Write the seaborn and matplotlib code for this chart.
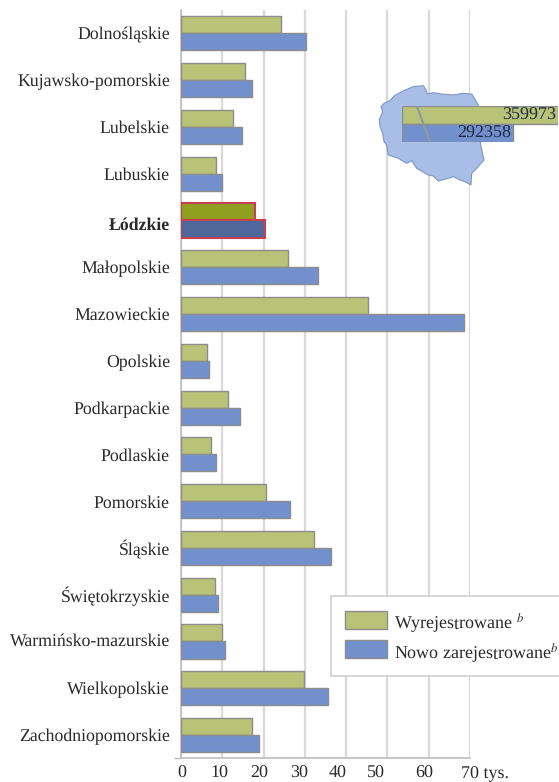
import matplotlib
matplotlib.use('Agg')
import matplotlib.pyplot as plt
import matplotlib.transforms as mtrans
from matplotlib.patches import Patch, Polygon, Rectangle
import pandas as pd
import seaborn as sns

# --- Data ---
regions = ['Dolnośląskie', 'Kujawsko-pomorskie', 'Lubelskie', 'Lubuskie', 'Łódzkie',
           'Małopolskie', 'Mazowieckie', 'Opolskie', 'Podkarpackie', 'Podlaskie',
           'Pomorskie', 'Śląskie', 'Świętokrzyskie', 'Warmińsko-mazurskie',
           'Wielkopolskie', 'Zachodniopomorskie']
wyrejestrowane = [24.2, 15.5, 12.6, 8.5, 17.9, 25.9, 45.3, 6.3,
                  11.4, 7.3, 20.6, 32.2, 8.2, 9.9, 29.8, 17.2]
nowo = [30.3, 17.2, 14.8, 9.9, 20.3, 33.2, 68.5, 6.8,
        14.3, 8.5, 26.4, 36.3, 9.0, 10.7, 35.6, 18.9]
x_ticks = [0, 10, 20, 30, 40, 50, 60, 70]
x_tick_labels = ['0', '10', '20', '30', '40', '50', '60', '70 tys.']
poland_totals = [359973, 292358]

GREEN, BLUE = '#B9C377', '#7291CC'
EDGE = '#8C8C8C'
GRID = '#D9D9D9'
TEXT = '#2A2A2A'
W, H = 559, 782

sns.set_theme(style='white')
plt.rcParams['font.family'] = ['Liberation Serif', 'DejaVu Serif']
plt.rcParams['mathtext.fontset'] = 'stix'
plt.rcParams['text.hinting'] = 'no_hinting'

df = pd.DataFrame({'region': regions * 2,
                   'value': wyrejestrowane + nowo,
                   'series': ['Wyrejestrowane'] * 16 + ['Nowo zarejestrowane'] * 16})

fig = plt.figure(figsize=(W / 100, H / 100), dpi=100)
ax = fig.add_axes([181 / W, 1 - 758.4 / H, (470 - 181) / W, (758.4 - 10) / H])

sns.barplot(data=df, x='value', y='region', hue='series', order=regions,
            palette=[GREEN, BLUE], width=0.73, gap=0, saturation=1,
            edgecolor=EDGE, linewidth=1, legend=False, ax=ax, zorder=3)

# highlight the Lodzkie pair
idx = regions.index('Łódzkie')
for cont, col in zip(ax.containers, ['#8F9F1F', '#4F689B']):
    bar = cont[idx]
    bar.set_facecolor(col)
    bar.set_edgecolor('#C8404F')
    bar.set_linewidth(1.5)

ax.set_xlim(0, 70)
ax.set_ylim(15.5, -0.5)
ax.set_xlabel('')
ax.set_ylabel('')
ax.grid(axis='x', color=GRID, lw=1.6, zorder=0)
ax.set_axisbelow(True)
for side in ['top', 'right']:
    ax.spines[side].set_visible(False)
for side in ['left', 'bottom']:
    ax.spines[side].set_color('#BDBDBD')
    ax.spines[side].set_linewidth(1.2)

ax.set_xticks(x_ticks)
ax.set_xticklabels(x_tick_labels, fontsize=13, color=TEXT, ha='center')
ax.tick_params(axis='x', length=3, color='#BDBDBD', pad=2)
ax.tick_params(axis='y', which='major', length=0, pad=8)
ax.set_yticks([15.5], minor=True)
ax.tick_params(axis='y', which='minor', length=5, color='#BDBDBD', left=True)

# x labels sit a bit off their gridlines in the original
shifts = [1, -3, -4, -6, -9, -11, -4, 15]
for lab, dx in zip(ax.get_xticklabels(), shifts):
    lab.set_transform(lab.get_transform() + mtrans.ScaledTranslation(dx / 100, 0, fig.dpi_scale_trans))

for lab in ax.get_yticklabels():
    lab.set_fontsize(12.8)
    lab.set_color(TEXT)
    if lab.get_text() == 'Łódzkie':
        lab.set_fontweight('bold')
        lab.set_transform(lab.get_transform() + mtrans.ScaledTranslation(0, -0.03, fig.dpi_scale_trans))
    if lab.get_text() == 'Warmińsko-mazurskie':
        lab.set_transform(lab.get_transform() + mtrans.ScaledTranslation(0, 0.02, fig.dpi_scale_trans))

# --- Map inset ---
outline = [(28, 148), (38, 125), (33, 110), (42, 100), (60, 92), (72, 78), (95, 65), (130, 50), (160, 47),
           (168, 60), (172, 72), (190, 68), (215, 72), (250, 75), (280, 70), (305, 72), (315, 88), (325, 105),
           (322, 135), (332, 160), (340, 190), (330, 205), (332, 225), (342, 270), (320, 295), (305, 310),
           (303, 345), (285, 335), (270, 330), (250, 320), (235, 325), (205, 333), (190, 318), (175, 315),
           (140, 295), (125, 272), (110, 280), (85, 265), (55, 255), (50, 225), (42, 215), (38, 190), (30, 170)]
px = [((370 + x / 3) / W, 1 - (70 + y / 3) / H) for x, y in outline]
fig.add_artist(Polygon(px, closed=True, transform=fig.transFigure, facecolor='#A9BEE6',
                       edgecolor='#7F96C4', lw=0.8, zorder=2))

inset = fig.add_axes([402 / W, 1 - 142 / H, 156 / W, 36 / H], zorder=4)
inset.patch.set_alpha(0)
base = 125500
inset_df = pd.DataFrame({'name': ['a', 'b'], 'value': [v - base for v in poland_totals]})
sns.barplot(data=inset_df, x='value', y='name', hue='name', palette=[GREEN, BLUE], width=1,
            saturation=1, edgecolor=EDGE, linewidth=1, legend=False, ax=inset)
inset.set_xlim(0, poland_totals[0] - base)
inset.set_ylim(1.5, -0.5)
inset.axis('off')
for i, v in enumerate(poland_totals):
    inset.text(v - base - 2500, i, str(v), ha='right', va='center', fontsize=13,
               color='#1F2A44', clip_on=False)
inset.plot([0.095, 0.18], [1.0, 0.0], transform=inset.transAxes, color='#8F9A9A', lw=1.6, zorder=1.5)

# --- Legend ---
fig.add_artist(Rectangle((331 / W, 1 - 676 / H), 240 / W, 80 / H, transform=fig.transFigure,
                         facecolor='white', edgecolor='#D0D0D0', lw=1.2, zorder=3))
handles = [Patch(facecolor=GREEN, edgecolor=EDGE), Patch(facecolor=BLUE, edgecolor=EDGE)]
leg = fig.legend(handles, ['Wyrejestrowane $^{b}$', 'Nowo zarejestrowane$^{b}$'], frameon=False,
                 loc='upper left', bbox_to_anchor=(345 / W, 1 - 609 / H), borderaxespad=0, borderpad=0,
                 fontsize=13, handlelength=2.33, handleheight=1.15, handletextpad=0.39, labelspacing=0.33,
                 labelcolor=TEXT)
leg.set_zorder(5)
for t in leg.get_texts():
    t.set_position((0, -3))

fig.savefig('out.png', dpi=100)
